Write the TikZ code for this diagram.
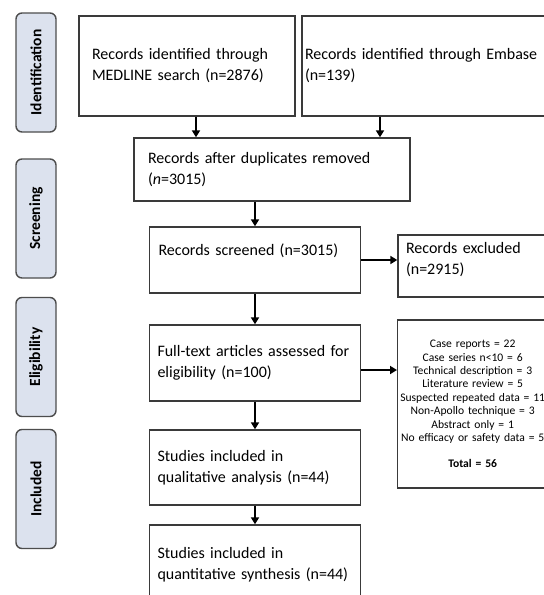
\documentclass[tikz,border=0pt]{standalone}
\usepackage{fontspec}
\setmainfont{Carlito}
\definecolor{ink}{HTML}{3A3A3A}
\definecolor{stagefill}{HTML}{DCE2EE}
\definecolor{stageline}{HTML}{4D4D4D}
\usetikzlibrary{arrows.meta,positioning}
\tikzset{
  >={Triangle[length=7pt,width=8pt]},
  box/.style={draw=ink,line width=1.4pt,fill=white,align=left,inner ysep=4pt,font=\fontsize{16}{21}\selectfont},
  listbox/.style={box,align=center,font=\fontsize{11.6}{13.4}\selectfont},
  stage/.style={draw=stageline,fill=stagefill,rounded corners=6pt,line width=1.4pt,rotate=90,minimum width=119pt,minimum height=40pt,font=\fontsize{15.5}{17}\selectfont\bfseries},
  arr/.style={->,draw=black,line width=1.8pt},
}

\begin{document}
\begin{tikzpicture}[x=1pt,y=1pt]
\clip (0,0) rectangle (544,-595);
\fill[white] (0,0) rectangle (544,-595);
% stages on the left
\node[stage] (ident) at (36,-72.5) {Identification};
\node[stage] (screen) at (36,-218.5) {Screening};
\node[stage] (elig) at (36,-357) {Eligibility};
\node[stage] (incl) at (36,-489) {Included};
% flow boxes
\node[box,minimum width=216pt,minimum height=100pt,inner xsep=13pt,text width=190pt] (medline) at (187,-66) {Records identified through\\MEDLINE search (n=2876)};
\node[box,minimum width=246pt,minimum height=100pt,inner xsep=3pt,text width=240pt] (embase) at (425,-66) {Records identified through Embase\\(n=139)};
\node[box,minimum width=276pt,minimum height=63pt,inner xsep=14pt,text width=248pt] (dup) at (272,-169.5) {Records after duplicates removed\\(\textit{n}=3015)};
\node[box,minimum width=211pt,minimum height=66pt,inner xsep=9pt,text width=193pt] (screened) at (255,-260) {Records screened (n=3015)\\\mbox{}};
\node[box,minimum width=150pt,minimum height=62pt,inner xsep=8pt,text width=134pt] (excluded) at (473,-266) {Records excluded\\(n=2915)\\[-5pt]\mbox{}};
\node[box,minimum width=211pt,minimum height=76pt,inner xsep=8pt,text width=195pt] (fulltext) at (255,-363) {Full-text articles assessed for\\eligibility (n=100)};
\node[listbox,anchor=west,minimum height=168pt,inner xsep=0pt,text width=150pt] (exclist) at (397,-404) {Case reports = 22\\Case series n<10 = 6\\Technical description = 3\\Literature review = 5\\Suspected repeated data = 11\\Non-Apollo technique = 3\\Abstract only = 1\\No efficacy or safety data = 5\\[13pt]\textbf{Total = 56}};
\node[box,minimum width=211pt,minimum height=75pt,inner xsep=8pt,text width=195pt] (qual) at (255,-467.5) {Studies included in\\qualitative analysis (n=44)};
\node[box,minimum width=211pt,minimum height=80pt,inner xsep=8pt,text width=195pt] (quant) at (255,-565) {Studies included in\\quantitative synthesis (n=44)};
% arrows
\draw[arr] ([xshift=9pt]medline.south) -- ([xshift=9pt]medline.south |- dup.north);
\draw[arr] ([xshift=-45pt]embase.south) -- ([xshift=-45pt]embase.south |- dup.north);
\draw[arr] (dup.south -| screened.north) -- (screened.north);
\draw[arr] (screened.east) -- (screened.east -| excluded.west);
\draw[arr] (screened.south) -- (fulltext.north);
\draw[arr] ([yshift=-7pt]fulltext.east) -- ([yshift=-7pt]fulltext.east -| exclist.west);
\draw[arr] (fulltext.south) -- (qual.north);
\draw[arr] (qual.south) -- (quant.north);
\end{tikzpicture}
\end{document}
